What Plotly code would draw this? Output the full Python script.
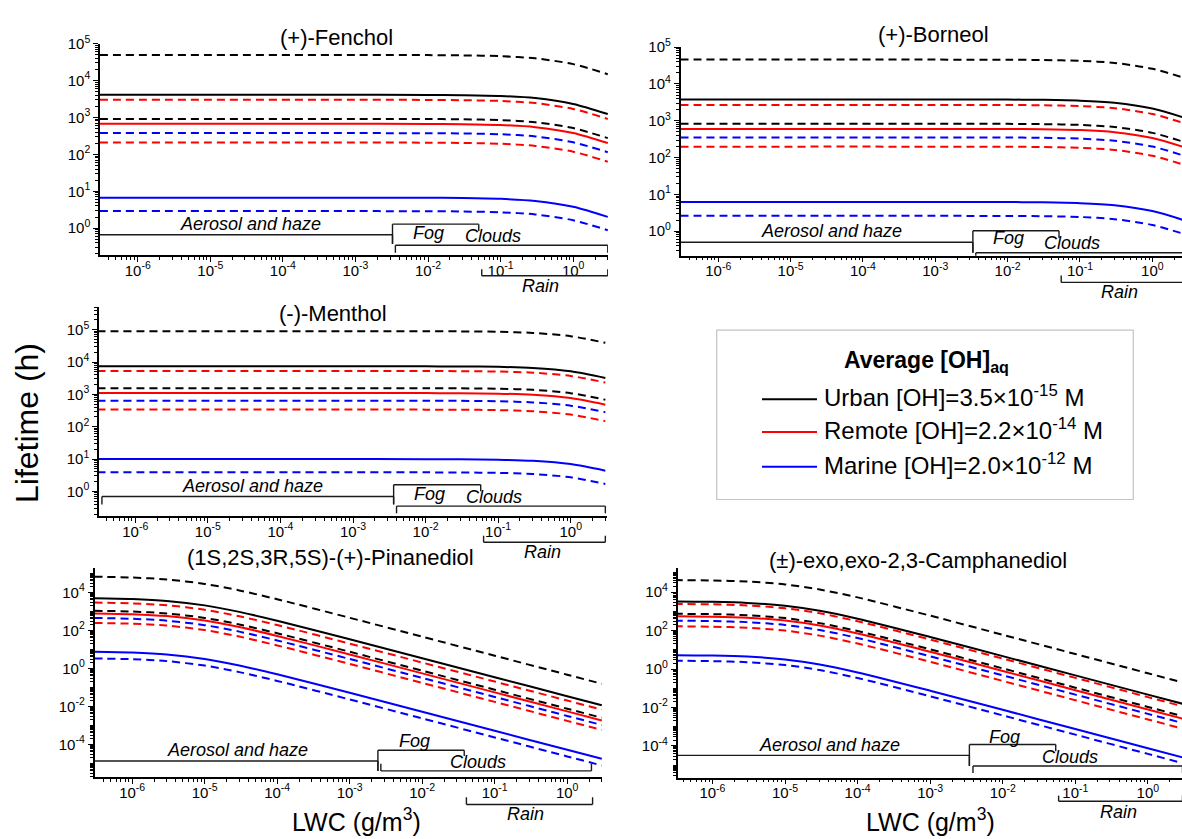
import math
import plotly.graph_objects as go

W, H = 1182, 839
FONT = "Liberation Sans, Arial, Helvetica, sans-serif"

# ---------------- liquid water content sampling (g/m3) ----------------
LWC_TOP = [3e-7, 1e-3, 1e-2, 3e-2, 0.1, 0.3, 1, 3]
LWC_DIOL = [3e-7, 1e-6, 3e-6, 1e-5, 3e-5, 1e-4, 1e-3, 1e-2, 0.1, 1, 3]

# ---------------- lifetimes (h) : central value, upper and lower bound ----------------
FENCHOL_URBAN = [4100, 4100, 4070, 4000, 3810, 3330, 2320, 1240]
FENCHOL_URBAN_HI = [49000, 49000, 48700, 47900, 45500, 39800, 27700, 14800]
FENCHOL_URBAN_LO = [910, 910, 904, 889, 845, 740, 514, 275]
FENCHOL_REMOTE = [670, 670, 665, 655, 622, 545, 379, 202]
FENCHOL_REMOTE_HI = [3000, 3000, 2980, 2930, 2790, 2440, 1700, 910]
FENCHOL_REMOTE_LO = [208, 208, 207, 203, 193, 169, 118, 63]
FENCHOL_MARINE = [6.7, 6.7, 6.65, 6.55, 6.22, 5.45, 3.79, 2.02]
FENCHOL_MARINE_HI = [376, 376, 373, 367, 349, 306, 212, 114]
FENCHOL_MARINE_LO = [2.9, 2.9, 2.88, 2.83, 2.69, 2.36, 1.64, 0.88]

BORNEOL_URBAN = [3800, 3800, 3770, 3710, 3530, 3090, 2150, 1150]
BORNEOL_URBAN_HI = [46000, 46000, 45700, 44900, 42700, 37400, 26000, 13900]
BORNEOL_URBAN_LO = [830, 830, 824, 811, 771, 675, 469, 251]
BORNEOL_REMOTE = [600, 600, 596, 586, 557, 488, 339, 181]
BORNEOL_REMOTE_HI = [2700, 2700, 2680, 2640, 2510, 2200, 1530, 815]
BORNEOL_REMOTE_LO = [198, 198, 197, 193, 184, 161, 112, 60]
BORNEOL_MARINE = [6.2, 6.2, 6.16, 6.06, 5.76, 5.04, 3.50, 1.87]
BORNEOL_MARINE_HI = [352, 352, 350, 344, 327, 286, 199, 106]
BORNEOL_MARINE_LO = [2.6, 2.6, 2.58, 2.54, 2.42, 2.11, 1.47, 0.79]

MENTHOL_URBAN = [7400, 7400, 7360, 7300, 7100, 6550, 5180, 3230]
MENTHOL_URBAN_HI = [90000, 90000, 89600, 88800, 86300, 79700, 63000, 39300]
MENTHOL_URBAN_LO = [1560, 1560, 1550, 1540, 1500, 1380, 1090, 682]
MENTHOL_REMOTE = [1100, 1100, 1095, 1086, 1055, 974, 770, 481]
MENTHOL_REMOTE_HI = [5300, 5300, 5270, 5230, 5080, 4690, 3710, 2320]
MENTHOL_REMOTE_LO = [340, 340, 338, 336, 326, 301, 238, 149]
MENTHOL_MARINE = [10, 10, 9.95, 9.87, 9.59, 8.85, 7.0, 4.37]
MENTHOL_MARINE_HI = [640, 640, 637, 632, 614, 566, 448, 280]
MENTHOL_MARINE_LO = [3.9, 3.9, 3.88, 3.85, 3.74, 3.45, 2.73, 1.70]

PINANEDIOL_URBAN = [4900, 4450, 3530, 2050, 933, 321, 34.0, 3.42, 0.342, 0.0342, 0.0114]
PINANEDIOL_URBAN_HI = [66000, 59900, 47600, 27700, 12600, 4320, 457, 46.1, 4.61, 0.461, 0.154]
PINANEDIOL_URBAN_LO = [1070, 973, 773, 449, 204, 70.2, 7.43, 0.748, 0.0748, 0.00748, 0.0025]
PINANEDIOL_REMOTE = [776, 705, 560, 325, 148, 50.8, 5.38, 0.542, 0.0542, 0.00542, 0.00181]
PINANEDIOL_REMOTE_HI = [2880, 2620, 2080, 1210, 549, 189, 20.0, 2.01, 0.201, 0.0201, 0.0067]
PINANEDIOL_REMOTE_LO = [245, 222, 177, 103, 46.7, 16.0, 1.70, 0.171, 0.0171, 0.00171, 0.00057]
PINANEDIOL_MARINE = [7.41, 6.73, 5.34, 3.10, 1.41, 0.485, 0.0514, 0.00517, 0.000517, 5.17e-5, 1.73e-5]
PINANEDIOL_MARINE_HI = [447, 406, 322, 187, 85.2, 29.3, 3.10, 0.312, 0.0312, 0.00312, 0.00104]
PINANEDIOL_MARINE_LO = [3.31, 3.01, 2.39, 1.39, 0.631, 0.217, 0.0229, 0.00231, 0.000231, 2.31e-5, 7.7e-6]

CAMPHANEDIOL_URBAN = [3240, 3090, 2730, 1940, 1060, 410, 46.1, 4.67, 0.467, 0.0467, 0.0156]
CAMPHANEDIOL_URBAN_HI = [41700, 39800, 35100, 24900, 13600, 5270, 593, 60.0, 6.0, 0.60, 0.20]
CAMPHANEDIOL_URBAN_LO = [741, 707, 624, 443, 242, 93.7, 10.5, 1.07, 0.107, 0.0107, 0.00356]
CAMPHANEDIOL_REMOTE = [550, 525, 463, 329, 180, 69.5, 7.82, 0.792, 0.0792, 0.00792, 0.00265]
CAMPHANEDIOL_REMOTE_HI = [2400, 2290, 2020, 1435, 785, 303, 34.1, 3.46, 0.346, 0.0346, 0.0115]
CAMPHANEDIOL_REMOTE_LO = [166, 158, 140, 99.3, 54.3, 21.0, 2.36, 0.239, 0.0239, 0.00239, 0.0008]
CAMPHANEDIOL_MARINE = [5.25, 5.01, 4.42, 3.14, 1.72, 0.664, 0.0747, 0.00756, 0.000756, 7.56e-5, 2.53e-5]
CAMPHANEDIOL_MARINE_HI = [324, 309, 273, 194, 106, 41.0, 4.61, 0.467, 0.0467, 0.00467, 0.00156]
CAMPHANEDIOL_MARINE_LO = [2.69, 2.57, 2.26, 1.61, 0.88, 0.34, 0.0383, 0.00387, 0.000387, 3.87e-5, 1.29e-5]

SCENARIO_COLORS = ["#000000", "#ff0000", "#0000ff"]
SCENARIO_LABELS = [
    "Urban [OH]=3.5×10<sup>-15</sup> M",
    "Remote [OH]=2.2×10<sup>-14</sup> M",
    "Marine [OH]=2.0×10<sup>-12</sup> M",
]
SCENARIO_NAMES = ["Urban", "Remote", "Marine"]
REGIME_NAMES = ["Aerosol and haze", "Fog", "Clouds", "Rain"]


def fx(p):
    return p / W


def fy(p):
    return 1 - p / H


# Panel layout: pixel box (left, right, top, bottom), log ranges, y tick step,
# regime brackets (lwc0, lwc1, y, left tick end, right tick end) and their labels.
PANELS = [
    dict(title="(+)-Fenchol", lwc=LWC_TOP,
         curves=[(FENCHOL_URBAN, FENCHOL_URBAN_HI, FENCHOL_URBAN_LO),
                 (FENCHOL_REMOTE, FENCHOL_REMOTE_HI, FENCHOL_REMOTE_LO),
                 (FENCHOL_MARINE, FENCHOL_MARINE_HI, FENCHOL_MARINE_LO)],
         box=(100, 608, 33, 247), xr=(-6.52, 0.48), yr=(-0.72, 5.0), ystep=1,
         title_xy=(336, 27),
         brackets=[(3.0e-7, 3.24e-3, 226.7, None, 236),
                   (3.24e-3, 0.050, 216, 236, 223),
                   (3.55e-3, 3.0, 237.3, 245, 245),
                   (0.055, 3.0, 268.3, 261.7, 261.7)],
         labels=[(3.63e-5, 216), (0.0102, 225), (0.0776, 228), (0.355, 278.3)]),
    dict(title="(+)-Borneol", lwc=LWC_TOP,
         curves=[(BORNEOL_URBAN, BORNEOL_URBAN_HI, BORNEOL_URBAN_LO),
                 (BORNEOL_REMOTE, BORNEOL_REMOTE_HI, BORNEOL_REMOTE_LO),
                 (BORNEOL_MARINE, BORNEOL_MARINE_HI, BORNEOL_MARINE_LO)],
         box=(680.6, 1182, 36.7, 248), xr=(-6.52, 0.41), yr=(-0.67, 5.0), ystep=1,
         title_xy=(933, 24),
         brackets=[(3.0e-7, 3.31e-3, 234.3, None, 245),
                   (3.31e-3, 0.0513, 222.7, 245, 230),
                   (3.63e-3, 3.0, 245, 248, 248),
                   (0.055, 3.0, 275, 268, 268)],
         labels=[(3.7e-5, 222.7), (0.0102, 230), (0.0776, 235), (0.355, 285)]),
    dict(title="(-)-Menthol", lwc=LWC_TOP,
         curves=[(MENTHOL_URBAN, MENTHOL_URBAN_HI, MENTHOL_URBAN_LO),
                 (MENTHOL_REMOTE, MENTHOL_REMOTE_HI, MENTHOL_REMOTE_LO),
                 (MENTHOL_MARINE, MENTHOL_MARINE_HI, MENTHOL_MARINE_LO)],
         box=(99, 607, 300, 511.7), xr=(-6.5, 0.5), yr=(-0.76, 5.7), ystep=1,
         title_xy=(333, 306.7),
         brackets=[(3.47e-7, 3.63e-3, 492, 500, 500),
                   (3.63e-3, 0.0575, 480, 500, 486.7),
                   (3.98e-3, 3.0, 501.7, 509, 509),
                   (0.063, 3.0, 538.3, 531.7, 531.7)],
         labels=[(4.17e-5, 481.5), (0.0115, 489), (0.089, 492.7), (0.407, 548)]),
    dict(title="(1S,2S,3R,5S)-(+)-Pinanediol", lwc=LWC_DIOL,
         curves=[(PINANEDIOL_URBAN, PINANEDIOL_URBAN_HI, PINANEDIOL_URBAN_LO),
                 (PINANEDIOL_REMOTE, PINANEDIOL_REMOTE_HI, PINANEDIOL_REMOTE_LO),
                 (PINANEDIOL_MARINE, PINANEDIOL_MARINE_HI, PINANEDIOL_MARINE_LO)],
         box=(94.5, 602, 564, 776), xr=(-6.52, 0.48), yr=(-5.71, 5.3), ystep=2,
         title_xy=(330, 554),
         brackets=[(2.34e-7, 2.45e-3, 760, 769.3, 770),
                   (2.45e-3, 0.038, 749, 770, 755),
                   (2.69e-3, 2.16, 770, 762.7, 762.7),
                   (0.0407, 2.24, 804, 796.7, 796.7)],
         labels=[(2.82e-5, 749), (7.76e-3, 740), (0.0589, 760.7), (0.263, 813.3)]),
    dict(title="(±)-exo,exo-2,3-Camphanediol", lwc=LWC_DIOL,
         curves=[(CAMPHANEDIOL_URBAN, CAMPHANEDIOL_URBAN_HI, CAMPHANEDIOL_URBAN_LO),
                 (CAMPHANEDIOL_REMOTE, CAMPHANEDIOL_REMOTE_HI, CAMPHANEDIOL_REMOTE_LO),
                 (CAMPHANEDIOL_MARINE, CAMPHANEDIOL_MARINE_HI, CAMPHANEDIOL_MARINE_LO)],
         box=(677.6, 1182, 564, 776.7), xr=(-6.48, 0.47), yr=(-5.64, 5.27), ystep=2,
         title_xy=(918, 557),
         brackets=[(3.3e-7, 3.47e-3, 754.3, None, 765),
                   (3.47e-3, 0.0537, 743.3, 765, 750),
                   (3.89e-3, 3.0, 765, 772, 772),
                   (0.0589, 3.0, 800.7, 795, 795)],
         labels=[(4.07e-5, 743.3), (0.0107, 736), (0.0832, 756), (0.389, 811.7)]),
]


def log_ticks(lo, hi, step):
    major, text, minor = [], [], []
    for p in range(math.floor(lo), math.ceil(hi) + 1):
        for k in range(1, 10):
            v = k * 10.0 ** p
            lv = math.log10(v)
            if lv < lo - 1e-9 or lv > hi + 1e-9:
                continue
            if k == 1 and p % step == 0:
                major.append(v)
                text.append("10<sup>%d</sup>" % p)
            else:
                minor.append(v)
    return major, text, minor


def axis_style(rng, step, domain, anchor, standoff=0):
    major, text, minor = log_ticks(rng[0], rng[1], step)
    return dict(
        type="log", range=list(rng), domain=domain, anchor=anchor,
        showline=True, linecolor="black", linewidth=1.5, mirror=False,
        showgrid=False, zeroline=False,
        ticks="outside", ticklen=5, tickwidth=1.3, tickcolor="black",
        tickmode="array", tickvals=major, ticktext=text,
        ticklabelstandoff=standoff,
        tickfont=dict(family=FONT, size=15, color="black"),
        minor=dict(ticks="outside", ticklen=3, tickwidth=1, tickcolor="black",
                   tickmode="array", tickvals=minor, showgrid=False),
    )


fig = go.Figure()
layout = dict(
    width=W, height=H, autosize=False,
    margin=dict(l=0, r=0, t=0, b=0),
    paper_bgcolor="white", plot_bgcolor="white",
    showlegend=False, font=dict(family=FONT, color="black"),
)
shapes, annotations = [], []

for i, pnl in enumerate(PANELS, start=1):
    sfx = "" if i == 1 else str(i)
    xname, yname = "x" + sfx, "y" + sfx
    left, right, top, bottom = pnl["box"]
    layout["xaxis" + sfx] = axis_style(pnl["xr"], 1, [fx(left), min(1.0, fx(right))], yname, standoff=-4)
    layout["yaxis" + sfx] = axis_style(pnl["yr"], pnl["ystep"], [fy(bottom), fy(top)], xname)

    # three bounds per scenario: dashed upper and lower bounds, solid central value
    for name, color, (mid, hi, lo) in zip(SCENARIO_NAMES, SCENARIO_COLORS, pnl["curves"]):
        for vals, dash, tag in ((hi, "8px,5px", "upper"), (lo, "8px,5px", "lower"), (mid, "solid", "")):
            fig.add_trace(go.Scatter(
                x=pnl["lwc"], y=vals, mode="lines", xaxis=xname, yaxis=yname,
                name=(name + " " + tag).strip(), hoverinfo="x+y+name",
                line=dict(color=color, width=2, dash=dash, shape="spline", smoothing=0.8),
            ))

    # panel title
    tx, ty = pnl["title_xy"]
    annotations.append(dict(text=pnl["title"], x=fx(tx), y=fy(ty), xref="paper", yref="paper",
                            xanchor="center", yanchor="middle", showarrow=False,
                            font=dict(family=FONT, size=22, color="black")))

    # LWC regime brackets
    for (x0, x1, yb, tl, tr) in pnl["brackets"]:
        seg = dict(type="line", xref=xname, yref="paper", line=dict(color="#1a1a1a", width=1.4))
        shapes.append(dict(seg, x0=x0, x1=x1, y0=fy(yb), y1=fy(yb)))
        if tl is not None:
            shapes.append(dict(seg, x0=x0, x1=x0, y0=fy(yb), y1=fy(tl)))
        if tr is not None:
            shapes.append(dict(seg, x0=x1, x1=x1, y0=fy(yb), y1=fy(tr)))
    for label, (lx, ly) in zip(REGIME_NAMES, pnl["labels"]):
        annotations.append(dict(text="<i>%s</i>" % label, x=math.log10(lx), y=fy(ly),
                                xref=xname, yref="paper", xanchor="center", yanchor="middle",
                                showarrow=False, font=dict(family=FONT, size=18, color="black")))

# shared axis titles
annotations.append(dict(text="Lifetime (h)", x=fx(26.5), y=fy(418), xref="paper", yref="paper",
                        textangle=-90, xanchor="center", yanchor="middle", showarrow=False,
                        font=dict(family=FONT, size=32, color="black")))
for cx in (356, 930):
    annotations.append(dict(text="LWC (g/m<sup>3</sup>)", x=fx(cx), y=fy(838), xref="paper", yref="paper",
                            xanchor="center", yanchor="bottom", showarrow=False,
                            font=dict(family=FONT, size=25, color="black")))

# legend box for the three OH scenarios
shapes.append(dict(type="rect", xref="paper", yref="paper", x0=fx(716.7), x1=fx(1133.3),
                   y0=fy(495), y1=fy(323.3), line=dict(color="#c4c4c4", width=1.2),
                   fillcolor="rgba(0,0,0,0)"))
annotations.append(dict(text="<b>Average [OH]<sub>aq</sub></b>", x=fx(841.7), y=fy(355),
                        xref="paper", yref="paper", xanchor="left", yanchor="middle",
                        showarrow=False, font=dict(family=FONT, size=23, color="black")))
for label, color, ly in zip(SCENARIO_LABELS, SCENARIO_COLORS, (393.3, 426.7, 461.7)):
    shapes.append(dict(type="line", xref="paper", yref="paper", x0=fx(762), x1=fx(817),
                       y0=fy(ly), y1=fy(ly), line=dict(color=color, width=2)))
    annotations.append(dict(text=label, x=fx(822), y=fy(ly - 3), xref="paper", yref="paper",
                            xanchor="left", yanchor="middle", showarrow=False,
                            font=dict(family=FONT, size=24, color="black")))

layout["shapes"] = shapes
layout["annotations"] = annotations
fig.update_layout(**layout)
fig.write_html("out.html")
